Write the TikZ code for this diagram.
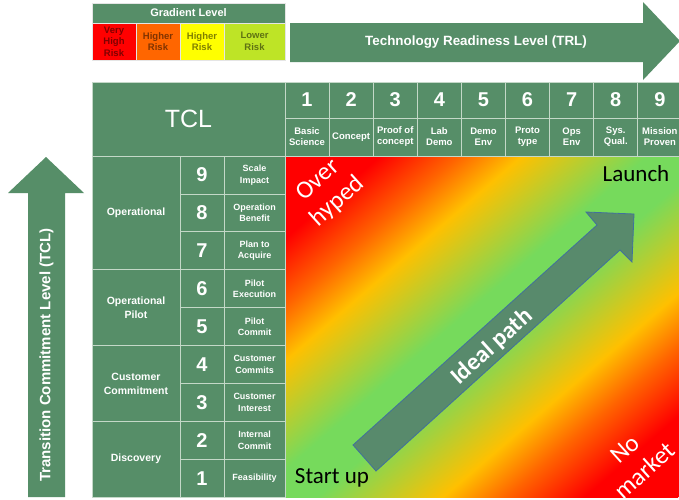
\documentclass[tikz,border=0pt]{standalone}
\usepackage{fontspec}
\setmainfont{Liberation Sans}
\newfontfamily\calibrifont{Carlito}
\usetikzlibrary{positioning}
\definecolor{tablegreen}{RGB}{86,142,104}
\definecolor{gridline}{RGB}{196,216,200}
\definecolor{pathgreen}{RGB}{88,138,108}
\definecolor{pathedge}{RGB}{65,113,156}
\definecolor{riskred}{RGB}{255,0,0}
\definecolor{riskorange}{RGB}{255,102,0}
\definecolor{riskyellow}{RGB}{255,255,0}
\definecolor{risklime}{RGB}{190,228,38}
\definecolor{zonered}{RGB}{255,0,0}
\definecolor{zoneorange}{RGB}{255,100,0}
\definecolor{zonegold}{RGB}{255,192,0}
\definecolor{zonegreen}{RGB}{118,218,92}
% red - orange - gold - green - gold - orange - red across the diagonal
\pgfdeclareverticalshading{riskzone}{100bp}{color(0bp)=(zonered); color(31bp)=(zonered); color(36bp)=(zoneorange); color(40bp)=(zonegold); color(48bp)=(zonegreen); color(52bp)=(zonegreen); color(60bp)=(zonegold); color(64bp)=(zoneorange); color(69bp)=(zonered); color(100bp)=(zonered)}

\begin{document}
\begin{tikzpicture}[
    x=1pt, y=-1pt,
    cell/.style={rectangle, draw=gridline, line width=0.7pt, fill=tablegreen, text=white, align=center, inner sep=0pt, outer sep=0pt},
    numcell/.style={cell, font=\bfseries\fontsize{20}{22}\selectfont},
    trllabel/.style={cell, font=\bfseries\fontsize{9.5}{11}\selectfont},
    tcllabel/.style={cell, font=\bfseries\fontsize{9}{11.5}\selectfont},
    groupcell/.style={cell, font=\bfseries\fontsize{10.5}{14}\selectfont},
    riskcell/.style={rectangle, draw=white!80!gray, line width=0.6pt, align=center, inner sep=0pt, outer sep=0pt, font=\bfseries\fontsize{9.5}{11.5}\selectfont},
    bandlabel/.style={text=white, font=\bfseries\fontsize{13.4}{16}\selectfont},
    zonelabel/.style={align=center, inner sep=0pt, font=\calibrifont\fontsize{23}{26}\selectfont}
]
    \fill[white] (0,0) rectangle (679,499);
    \useasboundingbox (0,0) rectangle (679,499);

    % risk zone behind the table
    \begin{scope}
        \clip (285,156) rectangle (679,497);
        \begin{scope}[transform canvas={rotate around={40.87:(482,326.5)}}]
            \shade[shading=riskzone] (62,68.7) rectangle (902,584.3);
        \end{scope}
    \end{scope}

    % gradient legend
    \node[cell, draw=white!80!gray, minimum width=193, minimum height=20, anchor=north west, font=\bfseries\fontsize{11}{13}\selectfont] (gradtitle) at (92,3) {Gradient Level};
    \foreach \xx/\cellwd/\col/\lbl in {92/44/riskred/{Very\\High\\Risk}, 136/44/riskorange/{Higher\\Risk}, 180/44/riskyellow/{Higher\\Risk}, 224/61/risklime/{Lower\\Risk}}
        \node[riskcell, fill=\col, text=\col!50!black, minimum width=\cellwd, minimum height=37, anchor=north west] (risk\col) at (\xx,23) {\lbl};

    % TRL band
    \fill[tablegreen] (290,23) -- (643,23) -- (643,2) -- (680,41) -- (643,80) -- (643,62) -- (290,62) -- cycle;
    \node[bandlabel] (trltext) at (476,42) {Technology Readiness Level (TRL)};

    % TCL band
    \fill[tablegreen] (28,497) -- (28,193) -- (8,193) -- (46,157) -- (84,193) -- (65,193) -- (65,497) -- cycle;
    \node[bandlabel, rotate=90, font=\bfseries\fontsize{15}{18}\selectfont] (tcltext) at (46.5,355) {Transition Commitment Level (TCL)};

    % table head
    \node[cell, minimum width=193, minimum height=74, anchor=north west, font=\fontsize{25}{30}\selectfont] (tclhead) at (92,82) {TCL};

    \foreach \lbl [count=\i] in {{Basic\\Science},Concept,{Proof of\\concept},{Lab\\Demo},{Demo\\Env},{Proto\\type},{Ops\\Env},{Sys.\\Qual.},{Mission\\Proven}} {
        \node[numcell, minimum width=44.1, minimum height=36, anchor=north west] (trl\i) at ({285+(\i-1)*44.1},82) {\i};
        \node[trllabel, minimum width=44.1, minimum height=38, below=0pt of trl\i] (trllbl\i) {\lbl};
    }

    \foreach \lbl [count=\k] in {{Scale\\Impact},{Operation\\Benefit},{Plan to\\Acquire},{Pilot\\Execution},{Pilot\\Commit},{Customer\\Commits},{Customer\\Interest},{Internal\\Commit},Feasibility} {
        \pgfmathtruncatemacro\lvl{10-\k}
        \node[numcell, minimum width=44, minimum height=37.9, anchor=north west] (tcl\lvl) at (180,{156+(\k-1)*37.9}) {\lvl};
        \node[tcllabel, minimum width=61, minimum height=37.9, right=0pt of tcl\lvl] (tcllbl\lvl) {\lbl};
    }

    \foreach \grp/\first/\nrows [count=\g] in {Operational/0/3, {Operational\\Pilot}/3/2, {Customer\\Commitment}/5/2, Discovery/7/2}
        \node[groupcell, minimum width=88, minimum height=\nrows*37.9, anchor=north west] (grp\g) at (92,{156+\first*37.9}) {\grp};

    % labels in the zone
    \node[zonelabel, text=white, rotate=42, font=\calibrifont\fontsize{25}{29}\selectfont] (overhyped) at (328,191) {Over\\hyped};
    \node[zonelabel, text=white, rotate=42, font=\calibrifont\fontsize{25}{29}\selectfont] (nomarket) at (635,460) {No\\market};
    \node[zonelabel] (launch) at (636,174) {Launch};
    \node[zonelabel] (startup) at (332,478) {Start up};

    % ideal path
    \draw[fill=pathgreen, draw=pathedge, line width=0.8pt] (353,445) -- (597,225) -- (586,212) -- (634,214) -- (632,262) -- (620,250) -- (376,471) -- cycle;
    \node[text=white, rotate=42, font=\calibrifont\bfseries\fontsize{24}{26}\selectfont] (idealpath) at (492,347) {Ideal path};
\end{tikzpicture}
\end{document}
